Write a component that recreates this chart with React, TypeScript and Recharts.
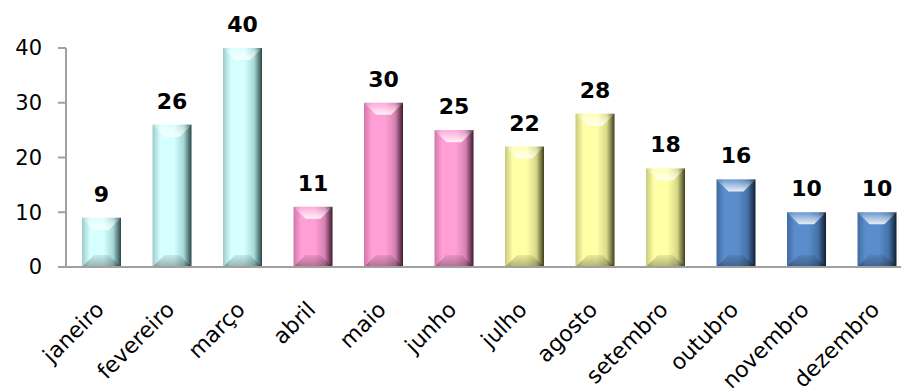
import React from 'react';
import { BarChart, Bar, XAxis, YAxis, LabelList } from 'recharts';

const months = [
  'janeiro', 'fevereiro', 'março', 'abril', 'maio', 'junho',
  'julho', 'agosto', 'setembro', 'outubro', 'novembro', 'dezembro',
];
const counts = [9, 26, 40, 11, 30, 25, 22, 28, 18, 16, 10, 10];
const yTicks = [0, 10, 20, 30, 40];

// one palette per quarter: [left edge, face, right-side mid, dark edge]
const quarterPalettes = [
  ['#9ccaca', '#d6ffff', '#a6d8d8', '#2c4646'],
  ['#d077a8', '#ff9fd6', '#d681b3', '#3e1a2e'],
  ['#c9c97c', '#ffffa6', '#d8d88a', '#3e3e1a'],
  ['#3f6ba0', '#5b8dcc', '#4472a8', '#101e30'],
];

const data = months.map((m, i) => ({ month: m, value: counts[i] }));

const FONT = '"DejaVu Sans", Verdana, sans-serif';
const BEVEL = 12;

function BevelBar(props: any) {
  const { x, y, width: w, height: h, index } = props;
  if (!h || h <= 0) return null;
  const pal = quarterPalettes[Math.floor(index / 3)];
  const id = `bb-${index}`;
  const b = Math.min(BEVEL, h / 2);
  return (
    <g>
      <defs>
        <linearGradient id={`${id}-h`} x1="0" y1="0" x2="1" y2="0">
          <stop offset="0%" stopColor={pal[0]} />
          <stop offset="20%" stopColor={pal[1]} />
          <stop offset="55%" stopColor={pal[1]} />
          <stop offset="80%" stopColor={pal[2]} />
          <stop offset="100%" stopColor={pal[3]} />
        </linearGradient>
        <linearGradient id={`${id}-t`} x1="0" y1="0" x2="0" y2="1">
          <stop offset="0%" stopColor="#ffffff" stopOpacity={0.1} />
          <stop offset="100%" stopColor="#ffffff" stopOpacity={0.85} />
        </linearGradient>
        <linearGradient id={`${id}-b`} x1="0" y1="0" x2="0" y2="1">
          <stop offset="0%" stopColor="#000000" stopOpacity={0.08} />
          <stop offset="100%" stopColor="#000000" stopOpacity={0.3} />
        </linearGradient>
      </defs>
      <rect x={x} y={y} width={w} height={h} fill={`url(#${id}-h)`} />
      <polygon
        points={`${x},${y} ${x + w},${y} ${x + w - b},${y + b} ${x + b},${y + b}`}
        fill={`url(#${id}-t)`}
      />
      <polygon
        points={`${x + b},${y + h - b} ${x + w - b},${y + h - b} ${x + w},${y + h} ${x},${y + h}`}
        fill={`url(#${id}-b)`}
      />
    </g>
  );
}

const MonthTick = (props: any) => {
  const { x, y, payload } = props;
  const tx = x + 4;
  const ty = y + 44;
  return (
    <text
      x={tx}
      y={ty}
      transform={`rotate(-45, ${tx}, ${ty})`}
      textAnchor="end"
      fontSize={22}
      fontFamily={FONT}
      fill="#000"
    >
      {payload.value}
    </text>
  );
};

export default function App() {
  return (
    <div style={{ position: 'absolute', left: 0, top: 0, width: 901, height: 392, overflow: 'hidden', background: '#fff' }}>
      <BarChart
        width={912}
        height={392}
        data={data}
        margin={{ top: 48, right: 0, left: 0, bottom: 0 }}
        barCategoryGap={0}
      >
        <XAxis
          dataKey="month"
          height={125}
          tickSize={0}
          tickMargin={0}
          tickLine={false}
          axisLine={{ stroke: '#a0a0a0', strokeWidth: 2 }}
          interval={0}
          tick={<MonthTick />}
        />
        <YAxis
          width={66}
          domain={[0, 40]}
          ticks={yTicks}
          tickSize={8}
          tickMargin={16}
          axisLine={{ stroke: '#a0a0a0', strokeWidth: 2 }}
          tickLine={{ stroke: '#a0a0a0', strokeWidth: 2 }}
          tick={{ fill: '#000', fontSize: 21, fontFamily: FONT }}
        />
        <Bar dataKey="value" barSize={39} isAnimationActive={false} shape={(p: any) => <BevelBar {...p} />}>
          <LabelList
            dataKey="value"
            position="top"
            offset={16}
            fill="#000"
            fontSize={22}
            fontWeight="bold"
            fontFamily={FONT}
          />
        </Bar>
      </BarChart>
    </div>
  );
}
